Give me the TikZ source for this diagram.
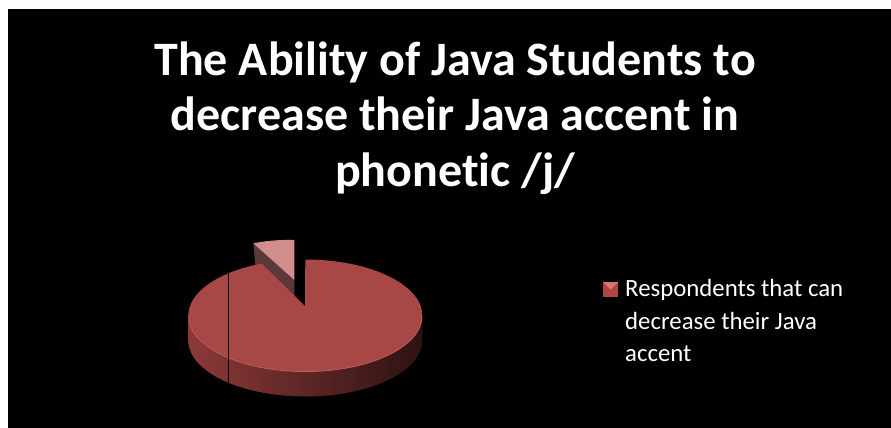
\documentclass[tikz,border=0pt]{standalone}
\usepackage{fontspec}
\setmainfont{Carlito}[Ligatures=NoCommon]
\definecolor{pietop}{RGB}{168,72,70}
\definecolor{pieside1}{RGB}{140,58,56}
\definecolor{pieside2}{RGB}{112,45,44}
\definecolor{pieside3}{RGB}{45,18,18}
\definecolor{pierim}{RGB}{192,92,90}
\definecolor{slicetopc}{RGB}{209,142,141}
\definecolor{slicesidec}{RGB}{92,56,56}
\definecolor{legred}{RGB}{176,70,68}
\definecolor{leglight}{RGB}{214,118,116}
\tikzset{
  titletext/.style={text=white, font=\bfseries\fontsize{48}{55}\selectfont, inner sep=0pt, anchor=base},
  legtext/.style={text=white, font=\fontsize{24.8}{32}\selectfont, inner sep=0pt, anchor=base west},
}
\begin{document}
\begin{tikzpicture}[x=1pt,y=-1pt]
\useasboundingbox (0,0) rectangle (891,428);
\fill[white] (0,0) rectangle (891,428);
\fill[black] (8,9) rectangle (891,428);

% exploded small slice
\fill[slicesidec] (253.3,243.3) -- (294.3,280) -- (294.3,298) -- (256,272) -- cycle;
\fill[slicetopc] (253.3,243.3) .. controls (267,240.6) and (281,239.6) .. (294.3,240) -- (294.3,280) -- cycle;

% main slice side
\fill[left color=pieside1, middle color=pieside2, right color=pieside3]
  (188.3,315.5) arc[start angle=180, end angle=0, x radius=117, y radius=56]
  -- ++(0,25) arc[start angle=0, end angle=180, x radius=117, y radius=56] -- cycle;
% main slice top
\fill[pietop] (305,306) -- (305.3,259.5)
  arc[start angle=-90, end angle=248.1, x radius=117, y radius=56] -- cycle;
\draw[pierim, line width=0.8pt] (188.6,316) arc[start angle=180, end angle=0, x radius=116.7, y radius=55.6];

% thin vertical line
\draw[black, line width=1pt] (228,273) -- (228,383);

% legend
\fill[legred] (603,282) rectangle (618,297);
\fill[leglight] (603,282) -- (618,282) -- (610.5,289.5) -- cycle;
\node[legtext] (leg1) at (625,296.7) {Respondents that can};
\node[legtext] (leg2) at (625,329.2) {decrease their Java};
\node[legtext] (leg3) at (625,361.7) {accent};

% title
\node[titletext] (t1) at (455,75) {The Ability of Java Students to};
\node[titletext] (t2) at (455,130.5) {decrease their Java accent in};
\node[titletext] (t3) at (455,186) {phonetic /j/};
\end{tikzpicture}
\end{document}
